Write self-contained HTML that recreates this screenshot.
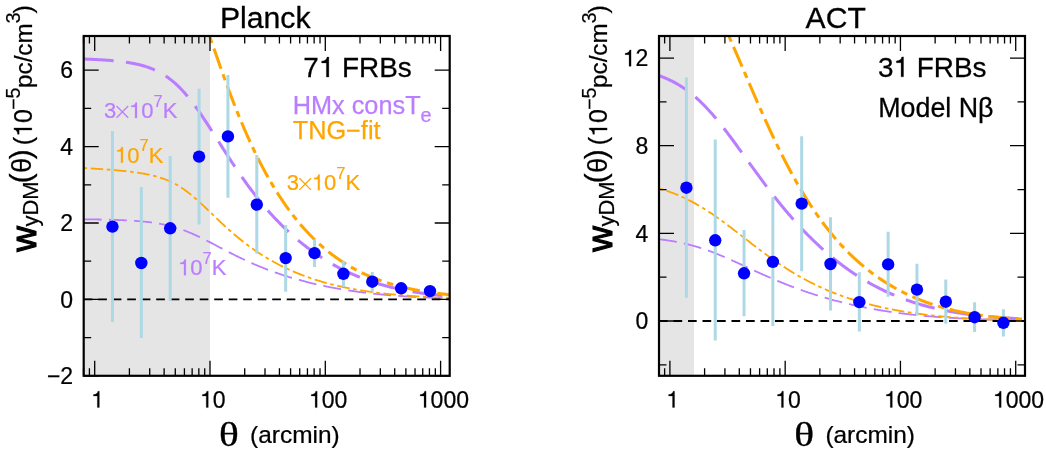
<!DOCTYPE html>
<html><head><meta charset="utf-8"><title>wyDM</title>
<style>html,body{margin:0;padding:0;background:#fff;}svg{display:block;will-change:transform;}</style></head>
<body>
<svg width="1046" height="453" viewBox="0 0 1046 453">
<rect width="1046" height="453" fill="#fff"/>
<clipPath id="clipL"><rect x="83.70" y="36.00" width="366.00" height="339.80"/></clipPath>
<rect x="83.70" y="36.00" width="126.30" height="339.80" fill="#e5e5e5"/>
<g clip-path="url(#clipL)">
<path d="M83.53,219.28 L84.44,219.29 L85.36,219.30 L86.28,219.31 L87.20,219.32 L88.12,219.33 L89.03,219.35 L89.95,219.36 L90.87,219.37 L91.79,219.38 L92.70,219.40 L93.62,219.41 L94.54,219.43 L95.46,219.44 L96.38,219.46 L97.29,219.47 L98.21,219.49 L99.13,219.51 L100.05,219.52 L100.96,219.54 L101.88,219.56 L102.80,219.58 L103.72,219.60 L104.64,219.62 L105.55,219.64 L106.47,219.66 L107.39,219.68 L108.31,219.71 L109.22,219.73 L110.14,219.75 L111.06,219.78 L111.98,219.81 L112.90,219.83 L113.81,219.86 L114.73,219.89 L115.65,219.92 L116.57,219.95 L117.48,219.98 L118.40,220.01 L119.32,220.05 L120.24,220.08 L121.16,220.12 L122.07,220.16 L122.99,220.20 L123.91,220.24 L124.83,220.28 L125.75,220.32 L126.66,220.37 L127.58,220.41 L128.50,220.46 L129.42,220.51 L130.33,220.57 L131.25,220.62 L132.17,220.67 L133.09,220.73 L134.01,220.79 L134.92,220.85 L135.84,220.92 L136.76,220.99 L137.68,221.05 L138.59,221.13 L139.51,221.20 L140.43,221.28 L141.35,221.36 L142.27,221.44 L143.18,221.53 L144.10,221.62 L145.02,221.71 L145.94,221.81 L146.85,221.90 L147.77,222.01 L148.69,222.11 L149.61,222.23 L150.53,222.34 L151.44,222.46 L152.36,222.58 L153.28,222.71 L154.20,222.84 L155.11,222.98 L156.03,223.12 L156.95,223.27 L157.87,223.42 L158.79,223.58 L159.70,223.74 L160.62,223.91 L161.54,224.08 L162.46,224.26 L163.38,224.44 L164.29,224.63 L165.21,224.83 L166.13,225.03 L167.05,225.24 L167.96,225.46 L168.88,225.68 L169.80,225.91 L170.72,226.15 L171.64,226.39 L172.55,226.64 L173.47,226.89 L174.39,227.16 L175.31,227.43 L176.22,227.71 L177.14,227.99 L178.06,228.28 L178.98,228.58 L179.90,228.89 L180.81,229.20 L181.73,229.52 L182.65,229.85 L183.57,230.19 L184.48,230.53 L185.40,230.88 L186.32,231.23 L187.24,231.59 L188.16,231.96 L189.07,232.34 L189.99,232.72 L190.91,233.11 L191.83,233.50 L192.74,233.91 L193.66,234.31 L194.58,234.72 L195.50,235.14 L196.42,235.56 L197.33,235.99 L198.25,236.42 L199.17,236.86 L200.09,237.30 L201.01,237.75 L201.92,238.20 L202.84,238.65 L203.76,239.11 L204.68,239.57 L205.59,240.03 L206.51,240.50 L207.43,240.97 L208.35,241.44 L209.27,241.91 L210.18,242.39 L211.10,242.86 L212.02,243.34 L212.94,243.82 L213.85,244.30 L214.77,244.78 L215.69,245.26 L216.61,245.75 L217.53,246.23 L218.44,246.71 L219.36,247.20 L220.28,247.68 L221.20,248.16 L222.11,248.64 L223.03,249.12 L223.95,249.60 L224.87,250.08 L225.79,250.56 L226.70,251.03 L227.62,251.50 L228.54,251.98 L229.46,252.45 L230.37,252.92 L231.29,253.38 L232.21,253.85 L233.13,254.31 L234.05,254.77 L234.96,255.23 L235.88,255.69 L236.80,256.14 L237.72,256.59 L238.63,257.04 L239.55,257.48 L240.47,257.93 L241.39,258.37 L242.31,258.80 L243.22,259.24 L244.14,259.67 L245.06,260.10 L245.98,260.52 L246.90,260.94 L247.81,261.36 L248.73,261.78 L249.65,262.19 L250.57,262.60 L251.48,263.01 L252.40,263.41 L253.32,263.81 L254.24,264.21 L255.16,264.61 L256.07,265.00 L256.99,265.39 L257.91,265.77 L258.83,266.15 L259.74,266.53 L260.66,266.91 L261.58,267.28 L262.50,267.65 L263.42,268.02 L264.33,268.38 L265.25,268.74 L266.17,269.09 L267.09,269.45 L268.00,269.80 L268.92,270.15 L269.84,270.49 L270.76,270.83 L271.68,271.17 L272.59,271.50 L273.51,271.84 L274.43,272.17 L275.35,272.49 L276.26,272.82 L277.18,273.14 L278.10,273.45 L279.02,273.77 L279.94,274.08 L280.85,274.39 L281.77,274.69 L282.69,275.00 L283.61,275.30 L284.53,275.59 L285.44,275.89 L286.36,276.18 L287.28,276.47 L288.20,276.75 L289.11,277.04 L290.03,277.32 L290.95,277.60 L291.87,277.87 L292.79,278.14 L293.70,278.41 L294.62,278.68 L295.54,278.95 L296.46,279.21 L297.37,279.47 L298.29,279.73 L299.21,279.98 L300.13,280.23 L301.05,280.48 L301.96,280.73 L302.88,280.97 L303.80,281.22 L304.72,281.46 L305.63,281.69 L306.55,281.93 L307.47,282.16 L308.39,282.39 L309.31,282.62 L310.22,282.85 L311.14,283.07 L312.06,283.29 L312.98,283.51 L313.89,283.73 L314.81,283.94 L315.73,284.15 L316.65,284.36 L317.57,284.57 L318.48,284.77 L319.40,284.98 L320.32,285.18 L321.24,285.38 L322.16,285.58 L323.07,285.77 L323.99,285.96 L324.91,286.15 L325.83,286.34 L326.74,286.53 L327.66,286.72 L328.58,286.90 L329.50,287.08 L330.42,287.26 L331.33,287.43 L332.25,287.61 L333.17,287.78 L334.09,287.95 L335.00,288.12 L335.92,288.29 L336.84,288.45 L337.76,288.62 L338.68,288.78 L339.59,288.94 L340.51,289.10 L341.43,289.25 L342.35,289.41 L343.26,289.56 L344.18,289.71 L345.10,289.86 L346.02,290.01 L346.94,290.15 L347.85,290.30 L348.77,290.44 L349.69,290.58 L350.61,290.72 L351.52,290.86 L352.44,290.99 L353.36,291.12 L354.28,291.26 L355.20,291.39 L356.11,291.52 L357.03,291.64 L357.95,291.77 L358.87,291.89 L359.78,292.02 L360.70,292.14 L361.62,292.26 L362.54,292.37 L363.46,292.49 L364.37,292.60 L365.29,292.72 L366.21,292.83 L367.13,292.94 L368.05,293.05 L368.96,293.16 L369.88,293.26 L370.80,293.37 L371.72,293.47 L372.63,293.57 L373.55,293.67 L374.47,293.77 L375.39,293.87 L376.31,293.97 L377.22,294.06 L378.14,294.15 L379.06,294.25 L379.98,294.34 L380.89,294.43 L381.81,294.52 L382.73,294.60 L383.65,294.69 L384.57,294.77 L385.48,294.86 L386.40,294.94 L387.32,295.02 L388.24,295.10 L389.15,295.18 L390.07,295.26 L390.99,295.33 L391.91,295.41 L392.83,295.48 L393.74,295.56 L394.66,295.63 L395.58,295.70 L396.50,295.77 L397.41,295.84 L398.33,295.90 L399.25,295.97 L400.17,296.03 L401.09,296.10 L402.00,296.16 L402.92,296.22 L403.84,296.29 L404.76,296.35 L405.68,296.41 L406.59,296.46 L407.51,296.52 L408.43,296.58 L409.35,296.63 L410.26,296.69 L411.18,296.74 L412.10,296.79 L413.02,296.84 L413.94,296.90 L414.85,296.95 L415.77,297.00 L416.69,297.04 L417.61,297.09 L418.52,297.14 L419.44,297.18 L420.36,297.23 L421.28,297.27 L422.20,297.32 L423.11,297.36 L424.03,297.40 L424.95,297.44 L425.87,297.48 L426.78,297.52 L427.70,297.56 L428.62,297.60 L429.54,297.64 L430.46,297.67 L431.37,297.71 L432.29,297.75 L433.21,297.78 L434.13,297.81 L435.04,297.85 L435.96,297.88 L436.88,297.91 L437.80,297.94 L438.72,297.98 L439.63,298.01 L440.55,298.04 L441.47,298.07 L442.39,298.09 L443.30,298.12 L444.22,298.15 L445.14,298.18 L446.06,298.20 L446.98,298.23 L447.89,298.26 L448.81,298.28 L449.73,298.31" fill="none" stroke="#bb7dff" stroke-width="1.80" stroke-dasharray="18.00 7.20" stroke-dashoffset="25.03"/>
<path d="M83.53,168.07 L84.44,168.12 L85.36,168.17 L86.28,168.21 L87.20,168.26 L88.12,168.32 L89.03,168.37 L89.95,168.42 L90.87,168.47 L91.79,168.52 L92.70,168.58 L93.62,168.63 L94.54,168.69 L95.46,168.74 L96.38,168.80 L97.29,168.86 L98.21,168.92 L99.13,168.98 L100.05,169.04 L100.96,169.10 L101.88,169.16 L102.80,169.23 L103.72,169.29 L104.64,169.35 L105.55,169.42 L106.47,169.49 L107.39,169.56 L108.31,169.62 L109.22,169.69 L110.14,169.77 L111.06,169.84 L111.98,169.91 L112.90,169.99 L113.81,170.06 L114.73,170.14 L115.65,170.22 L116.57,170.30 L117.48,170.38 L118.40,170.47 L119.32,170.55 L120.24,170.64 L121.16,170.73 L122.07,170.82 L122.99,170.91 L123.91,171.00 L124.83,171.10 L125.75,171.20 L126.66,171.30 L127.58,171.40 L128.50,171.51 L129.42,171.61 L130.33,171.72 L131.25,171.83 L132.17,171.95 L133.09,172.07 L134.01,172.19 L134.92,172.31 L135.84,172.44 L136.76,172.57 L137.68,172.70 L138.59,172.84 L139.51,172.98 L140.43,173.13 L141.35,173.28 L142.27,173.43 L143.18,173.59 L144.10,173.75 L145.02,173.92 L145.94,174.09 L146.85,174.27 L147.77,174.46 L148.69,174.65 L149.61,174.84 L150.53,175.04 L151.44,175.25 L152.36,175.47 L153.28,175.69 L154.20,175.92 L155.11,176.16 L156.03,176.41 L156.95,176.66 L157.87,176.93 L158.79,177.20 L159.70,177.48 L160.62,177.77 L161.54,178.07 L162.46,178.39 L163.38,178.71 L164.29,179.04 L165.21,179.39 L166.13,179.74 L167.05,180.11 L167.96,180.50 L168.88,180.89 L169.80,181.30 L170.72,181.72 L171.64,182.15 L172.55,182.60 L173.47,183.06 L174.39,183.54 L175.31,184.03 L176.22,184.54 L177.14,185.06 L178.06,185.59 L178.98,186.15 L179.90,186.71 L180.81,187.29 L181.73,187.89 L182.65,188.50 L183.57,189.13 L184.48,189.77 L185.40,190.42 L186.32,191.09 L187.24,191.78 L188.16,192.48 L189.07,193.19 L189.99,193.91 L190.91,194.65 L191.83,195.40 L192.74,196.16 L193.66,196.93 L194.58,197.72 L195.50,198.51 L196.42,199.32 L197.33,200.13 L198.25,200.95 L199.17,201.78 L200.09,202.62 L201.01,203.46 L201.92,204.32 L202.84,205.17 L203.76,206.04 L204.68,206.90 L205.59,207.77 L206.51,208.65 L207.43,209.52 L208.35,210.40 L209.27,211.28 L210.18,212.16 L211.10,213.05 L212.02,213.93 L212.94,214.81 L213.85,215.69 L214.77,216.58 L215.69,217.45 L216.61,218.33 L217.53,219.21 L218.44,220.08 L219.36,220.95 L220.28,221.81 L221.20,222.67 L222.11,223.53 L223.03,224.38 L223.95,225.23 L224.87,226.08 L225.79,226.92 L226.70,227.75 L227.62,228.58 L228.54,229.40 L229.46,230.22 L230.37,231.03 L231.29,231.84 L232.21,232.64 L233.13,233.43 L234.05,234.22 L234.96,235.00 L235.88,235.77 L236.80,236.54 L237.72,237.30 L238.63,238.06 L239.55,238.81 L240.47,239.55 L241.39,240.28 L242.31,241.01 L243.22,241.73 L244.14,242.44 L245.06,243.15 L245.98,243.85 L246.90,244.55 L247.81,245.23 L248.73,245.91 L249.65,246.59 L250.57,247.25 L251.48,247.91 L252.40,248.57 L253.32,249.21 L254.24,249.85 L255.16,250.49 L256.07,251.11 L256.99,251.73 L257.91,252.35 L258.83,252.95 L259.74,253.55 L260.66,254.15 L261.58,254.74 L262.50,255.32 L263.42,255.89 L264.33,256.46 L265.25,257.03 L266.17,257.58 L267.09,258.13 L268.00,258.68 L268.92,259.22 L269.84,259.75 L270.76,260.27 L271.68,260.80 L272.59,261.31 L273.51,261.82 L274.43,262.32 L275.35,262.82 L276.26,263.31 L277.18,263.80 L278.10,264.28 L279.02,264.76 L279.94,265.23 L280.85,265.69 L281.77,266.15 L282.69,266.60 L283.61,267.05 L284.53,267.50 L285.44,267.93 L286.36,268.37 L287.28,268.80 L288.20,269.22 L289.11,269.64 L290.03,270.05 L290.95,270.46 L291.87,270.86 L292.79,271.26 L293.70,271.66 L294.62,272.05 L295.54,272.43 L296.46,272.81 L297.37,273.19 L298.29,273.56 L299.21,273.93 L300.13,274.29 L301.05,274.65 L301.96,275.00 L302.88,275.35 L303.80,275.69 L304.72,276.04 L305.63,276.37 L306.55,276.70 L307.47,277.03 L308.39,277.36 L309.31,277.68 L310.22,277.99 L311.14,278.31 L312.06,278.62 L312.98,278.92 L313.89,279.22 L314.81,279.52 L315.73,279.81 L316.65,280.10 L317.57,280.39 L318.48,280.67 L319.40,280.95 L320.32,281.23 L321.24,281.50 L322.16,281.77 L323.07,282.03 L323.99,282.29 L324.91,282.55 L325.83,282.81 L326.74,283.06 L327.66,283.31 L328.58,283.55 L329.50,283.79 L330.42,284.03 L331.33,284.27 L332.25,284.50 L333.17,284.73 L334.09,284.95 L335.00,285.18 L335.92,285.40 L336.84,285.62 L337.76,285.83 L338.68,286.04 L339.59,286.25 L340.51,286.46 L341.43,286.66 L342.35,286.86 L343.26,287.06 L344.18,287.25 L345.10,287.45 L346.02,287.64 L346.94,287.82 L347.85,288.01 L348.77,288.19 L349.69,288.37 L350.61,288.55 L351.52,288.72 L352.44,288.89 L353.36,289.06 L354.28,289.23 L355.20,289.39 L356.11,289.56 L357.03,289.72 L357.95,289.87 L358.87,290.03 L359.78,290.18 L360.70,290.34 L361.62,290.48 L362.54,290.63 L363.46,290.78 L364.37,290.92 L365.29,291.06 L366.21,291.20 L367.13,291.33 L368.05,291.47 L368.96,291.60 L369.88,291.73 L370.80,291.86 L371.72,291.99 L372.63,292.11 L373.55,292.24 L374.47,292.36 L375.39,292.48 L376.31,292.59 L377.22,292.71 L378.14,292.82 L379.06,292.94 L379.98,293.05 L380.89,293.16 L381.81,293.26 L382.73,293.37 L383.65,293.47 L384.57,293.58 L385.48,293.68 L386.40,293.78 L387.32,293.87 L388.24,293.97 L389.15,294.07 L390.07,294.16 L390.99,294.25 L391.91,294.34 L392.83,294.43 L393.74,294.52 L394.66,294.60 L395.58,294.69 L396.50,294.77 L397.41,294.85 L398.33,294.94 L399.25,295.01 L400.17,295.09 L401.09,295.17 L402.00,295.25 L402.92,295.32 L403.84,295.39 L404.76,295.47 L405.68,295.54 L406.59,295.61 L407.51,295.68 L408.43,295.74 L409.35,295.81 L410.26,295.87 L411.18,295.94 L412.10,296.00 L413.02,296.06 L413.94,296.12 L414.85,296.19 L415.77,296.24 L416.69,296.30 L417.61,296.36 L418.52,296.42 L419.44,296.47 L420.36,296.52 L421.28,296.58 L422.20,296.63 L423.11,296.68 L424.03,296.73 L424.95,296.78 L425.87,296.83 L426.78,296.88 L427.70,296.93 L428.62,296.97 L429.54,297.02 L430.46,297.06 L431.37,297.11 L432.29,297.15 L433.21,297.19 L434.13,297.23 L435.04,297.28 L435.96,297.32 L436.88,297.36 L437.80,297.39 L438.72,297.43 L439.63,297.47 L440.55,297.51 L441.47,297.54 L442.39,297.58 L443.30,297.61 L444.22,297.65 L445.14,297.68 L446.06,297.72 L446.98,297.75 L447.89,297.78 L448.81,297.81 L449.73,297.84" fill="none" stroke="#ffa500" stroke-width="1.80" stroke-dasharray="12.60 3.60 3.60 3.60" stroke-dashoffset="16.32"/>
<path d="M83.53,59.03 L84.44,59.06 L85.36,59.09 L86.28,59.13 L87.20,59.16 L88.12,59.20 L89.03,59.24 L89.95,59.27 L90.87,59.31 L91.79,59.35 L92.70,59.39 L93.62,59.44 L94.54,59.48 L95.46,59.53 L96.38,59.57 L97.29,59.62 L98.21,59.67 L99.13,59.72 L100.05,59.77 L100.96,59.83 L101.88,59.88 L102.80,59.94 L103.72,60.00 L104.64,60.06 L105.55,60.12 L106.47,60.18 L107.39,60.25 L108.31,60.32 L109.22,60.39 L110.14,60.46 L111.06,60.54 L111.98,60.62 L112.90,60.70 L113.81,60.78 L114.73,60.87 L115.65,60.96 L116.57,61.05 L117.48,61.15 L118.40,61.24 L119.32,61.35 L120.24,61.45 L121.16,61.56 L122.07,61.67 L122.99,61.79 L123.91,61.91 L124.83,62.04 L125.75,62.17 L126.66,62.30 L127.58,62.44 L128.50,62.59 L129.42,62.74 L130.33,62.90 L131.25,63.06 L132.17,63.22 L133.09,63.40 L134.01,63.58 L134.92,63.76 L135.84,63.96 L136.76,64.16 L137.68,64.36 L138.59,64.58 L139.51,64.80 L140.43,65.04 L141.35,65.28 L142.27,65.52 L143.18,65.78 L144.10,66.05 L145.02,66.33 L145.94,66.62 L146.85,66.91 L147.77,67.22 L148.69,67.54 L149.61,67.88 L150.53,68.22 L151.44,68.58 L152.36,68.95 L153.28,69.33 L154.20,69.73 L155.11,70.14 L156.03,70.56 L156.95,71.00 L157.87,71.46 L158.79,71.93 L159.70,72.41 L160.62,72.92 L161.54,73.44 L162.46,73.97 L163.38,74.53 L164.29,75.10 L165.21,75.69 L166.13,76.30 L167.05,76.93 L167.96,77.57 L168.88,78.24 L169.80,78.93 L170.72,79.64 L171.64,80.36 L172.55,81.11 L173.47,81.88 L174.39,82.67 L175.31,83.48 L176.22,84.32 L177.14,85.17 L178.06,86.05 L178.98,86.95 L179.90,87.87 L180.81,88.81 L181.73,89.77 L182.65,90.75 L183.57,91.76 L184.48,92.78 L185.40,93.83 L186.32,94.90 L187.24,95.98 L188.16,97.09 L189.07,98.22 L189.99,99.37 L190.91,100.53 L191.83,101.71 L192.74,102.92 L193.66,104.14 L194.58,105.37 L195.50,106.62 L196.42,107.89 L197.33,109.17 L198.25,110.47 L199.17,111.78 L200.09,113.11 L201.01,114.44 L201.92,115.79 L202.84,117.15 L203.76,118.53 L204.68,119.91 L205.59,121.30 L206.51,122.69 L207.43,124.10 L208.35,125.51 L209.27,126.93 L210.18,128.36 L211.10,129.79 L212.02,131.22 L212.94,132.66 L213.85,134.10 L214.77,135.55 L215.69,136.99 L216.61,138.44 L217.53,139.89 L218.44,141.34 L219.36,142.79 L220.28,144.23 L221.20,145.68 L222.11,147.12 L223.03,148.56 L223.95,150.00 L224.87,151.43 L225.79,152.87 L226.70,154.29 L227.62,155.71 L228.54,157.13 L229.46,158.54 L230.37,159.95 L231.29,161.35 L232.21,162.75 L233.13,164.13 L234.05,165.51 L234.96,166.89 L235.88,168.26 L236.80,169.62 L237.72,170.97 L238.63,172.31 L239.55,173.65 L240.47,174.98 L241.39,176.30 L242.31,177.61 L243.22,178.91 L244.14,180.20 L245.06,181.49 L245.98,182.76 L246.90,184.03 L247.81,185.29 L248.73,186.54 L249.65,187.78 L250.57,189.01 L251.48,190.23 L252.40,191.44 L253.32,192.64 L254.24,193.84 L255.16,195.02 L256.07,196.19 L256.99,197.36 L257.91,198.51 L258.83,199.66 L259.74,200.80 L260.66,201.92 L261.58,203.04 L262.50,204.15 L263.42,205.25 L264.33,206.33 L265.25,207.41 L266.17,208.48 L267.09,209.54 L268.00,210.60 L268.92,211.64 L269.84,212.67 L270.76,213.69 L271.68,214.71 L272.59,215.71 L273.51,216.71 L274.43,217.70 L275.35,218.68 L276.26,219.65 L277.18,220.61 L278.10,221.56 L279.02,222.50 L279.94,223.44 L280.85,224.36 L281.77,225.28 L282.69,226.19 L283.61,227.09 L284.53,227.98 L285.44,228.86 L286.36,229.74 L287.28,230.60 L288.20,231.46 L289.11,232.31 L290.03,233.15 L290.95,233.99 L291.87,234.81 L292.79,235.63 L293.70,236.44 L294.62,237.24 L295.54,238.04 L296.46,238.83 L297.37,239.61 L298.29,240.38 L299.21,241.14 L300.13,241.90 L301.05,242.65 L301.96,243.39 L302.88,244.12 L303.80,244.85 L304.72,245.57 L305.63,246.28 L306.55,246.98 L307.47,247.68 L308.39,248.37 L309.31,249.06 L310.22,249.74 L311.14,250.41 L312.06,251.07 L312.98,251.73 L313.89,252.38 L314.81,253.02 L315.73,253.65 L316.65,254.28 L317.57,254.91 L318.48,255.52 L319.40,256.14 L320.32,256.74 L321.24,257.34 L322.16,257.93 L323.07,258.51 L323.99,259.09 L324.91,259.66 L325.83,260.23 L326.74,260.79 L327.66,261.35 L328.58,261.89 L329.50,262.44 L330.42,262.97 L331.33,263.50 L332.25,264.03 L333.17,264.55 L334.09,265.06 L335.00,265.57 L335.92,266.07 L336.84,266.56 L337.76,267.05 L338.68,267.54 L339.59,268.02 L340.51,268.49 L341.43,268.96 L342.35,269.42 L343.26,269.88 L344.18,270.33 L345.10,270.78 L346.02,271.22 L346.94,271.66 L347.85,272.09 L348.77,272.52 L349.69,272.94 L350.61,273.35 L351.52,273.77 L352.44,274.17 L353.36,274.57 L354.28,274.97 L355.20,275.36 L356.11,275.75 L357.03,276.13 L357.95,276.51 L358.87,276.88 L359.78,277.25 L360.70,277.61 L361.62,277.97 L362.54,278.32 L363.46,278.67 L364.37,279.01 L365.29,279.35 L366.21,279.69 L367.13,280.02 L368.05,280.35 L368.96,280.67 L369.88,280.99 L370.80,281.30 L371.72,281.61 L372.63,281.92 L373.55,282.22 L374.47,282.52 L375.39,282.81 L376.31,283.10 L377.22,283.38 L378.14,283.66 L379.06,283.94 L379.98,284.21 L380.89,284.48 L381.81,284.75 L382.73,285.01 L383.65,285.27 L384.57,285.52 L385.48,285.77 L386.40,286.02 L387.32,286.26 L388.24,286.50 L389.15,286.74 L390.07,286.97 L390.99,287.20 L391.91,287.43 L392.83,287.65 L393.74,287.87 L394.66,288.08 L395.58,288.29 L396.50,288.50 L397.41,288.71 L398.33,288.91 L399.25,289.11 L400.17,289.30 L401.09,289.50 L402.00,289.69 L402.92,289.87 L403.84,290.06 L404.76,290.24 L405.68,290.42 L406.59,290.59 L407.51,290.76 L408.43,290.93 L409.35,291.10 L410.26,291.26 L411.18,291.42 L412.10,291.58 L413.02,291.73 L413.94,291.89 L414.85,292.04 L415.77,292.19 L416.69,292.33 L417.61,292.47 L418.52,292.61 L419.44,292.75 L420.36,292.89 L421.28,293.02 L422.20,293.15 L423.11,293.28 L424.03,293.40 L424.95,293.53 L425.87,293.65 L426.78,293.77 L427.70,293.88 L428.62,294.00 L429.54,294.11 L430.46,294.22 L431.37,294.33 L432.29,294.44 L433.21,294.54 L434.13,294.64 L435.04,294.74 L435.96,294.84 L436.88,294.94 L437.80,295.03 L438.72,295.13 L439.63,295.22 L440.55,295.31 L441.47,295.40 L442.39,295.48 L443.30,295.57 L444.22,295.65 L445.14,295.73 L446.06,295.81 L446.98,295.89 L447.89,295.97 L448.81,296.04 L449.73,296.12" fill="none" stroke="#bb7dff" stroke-width="3.05" stroke-dasharray="30.00 12.40" stroke-dashoffset="42.23"/>
<path d="M83.53,-94.59 L84.44,-94.45 L85.36,-94.30 L86.28,-94.16 L87.20,-94.01 L88.12,-93.85 L89.03,-93.70 L89.95,-93.55 L90.87,-93.39 L91.79,-93.23 L92.70,-93.06 L93.62,-92.90 L94.54,-92.73 L95.46,-92.57 L96.38,-92.39 L97.29,-92.22 L98.21,-92.04 L99.13,-91.87 L100.05,-91.68 L100.96,-91.50 L101.88,-91.31 L102.80,-91.12 L103.72,-90.93 L104.64,-90.74 L105.55,-90.54 L106.47,-90.34 L107.39,-90.13 L108.31,-89.93 L109.22,-89.72 L110.14,-89.50 L111.06,-89.28 L111.98,-89.06 L112.90,-88.84 L113.81,-88.61 L114.73,-88.37 L115.65,-88.14 L116.57,-87.90 L117.48,-87.65 L118.40,-87.40 L119.32,-87.14 L120.24,-86.88 L121.16,-86.62 L122.07,-86.35 L122.99,-86.07 L123.91,-85.79 L124.83,-85.50 L125.75,-85.21 L126.66,-84.91 L127.58,-84.60 L128.50,-84.28 L129.42,-83.96 L130.33,-83.63 L131.25,-83.30 L132.17,-82.95 L133.09,-82.60 L134.01,-82.24 L134.92,-81.86 L135.84,-81.48 L136.76,-81.09 L137.68,-80.69 L138.59,-80.28 L139.51,-79.85 L140.43,-79.42 L141.35,-78.97 L142.27,-78.51 L143.18,-78.03 L144.10,-77.54 L145.02,-77.04 L145.94,-76.52 L146.85,-75.99 L147.77,-75.43 L148.69,-74.86 L149.61,-74.28 L150.53,-73.67 L151.44,-73.04 L152.36,-72.39 L153.28,-71.72 L154.20,-71.03 L155.11,-70.32 L156.03,-69.58 L156.95,-68.81 L157.87,-68.02 L158.79,-67.21 L159.70,-66.36 L160.62,-65.49 L161.54,-64.58 L162.46,-63.64 L163.38,-62.68 L164.29,-61.67 L165.21,-60.64 L166.13,-59.57 L167.05,-58.46 L167.96,-57.31 L168.88,-56.13 L169.80,-54.91 L170.72,-53.64 L171.64,-52.34 L172.55,-51.00 L173.47,-49.61 L174.39,-48.18 L175.31,-46.70 L176.22,-45.19 L177.14,-43.62 L178.06,-42.02 L178.98,-40.36 L179.90,-38.66 L180.81,-36.92 L181.73,-35.13 L182.65,-33.30 L183.57,-31.42 L184.48,-29.50 L185.40,-27.53 L186.32,-25.52 L187.24,-23.47 L188.16,-21.37 L189.07,-19.24 L189.99,-17.07 L190.91,-14.85 L191.83,-12.60 L192.74,-10.32 L193.66,-8.00 L194.58,-5.65 L195.50,-3.27 L196.42,-0.85 L197.33,1.59 L198.25,4.06 L199.17,6.55 L200.09,9.06 L201.01,11.59 L201.92,14.15 L202.84,16.72 L203.76,19.31 L204.68,21.91 L205.59,24.52 L206.51,27.14 L207.43,29.77 L208.35,32.41 L209.27,35.05 L210.18,37.69 L211.10,40.34 L212.02,42.99 L212.94,45.64 L213.85,48.28 L214.77,50.93 L215.69,53.56 L216.61,56.19 L217.53,58.82 L218.44,61.43 L219.36,64.04 L220.28,66.64 L221.20,69.22 L222.11,71.79 L223.03,74.35 L223.95,76.90 L224.87,79.43 L225.79,81.95 L226.70,84.45 L227.62,86.94 L228.54,89.41 L229.46,91.86 L230.37,94.30 L231.29,96.71 L232.21,99.11 L233.13,101.49 L234.05,103.86 L234.96,106.20 L235.88,108.52 L236.80,110.82 L237.72,113.11 L238.63,115.37 L239.55,117.62 L240.47,119.84 L241.39,122.04 L242.31,124.23 L243.22,126.39 L244.14,128.53 L245.06,130.66 L245.98,132.76 L246.90,134.84 L247.81,136.90 L248.73,138.94 L249.65,140.96 L250.57,142.96 L251.48,144.94 L252.40,146.90 L253.32,148.84 L254.24,150.76 L255.16,152.66 L256.07,154.54 L256.99,156.40 L257.91,158.24 L258.83,160.06 L259.74,161.86 L260.66,163.65 L261.58,165.41 L262.50,167.15 L263.42,168.88 L264.33,170.59 L265.25,172.28 L266.17,173.95 L267.09,175.60 L268.00,177.23 L268.92,178.85 L269.84,180.44 L270.76,182.02 L271.68,183.59 L272.59,185.13 L273.51,186.66 L274.43,188.17 L275.35,189.66 L276.26,191.14 L277.18,192.60 L278.10,194.04 L279.02,195.47 L279.94,196.88 L280.85,198.27 L281.77,199.65 L282.69,201.01 L283.61,202.36 L284.53,203.69 L285.44,205.00 L286.36,206.30 L287.28,207.59 L288.20,208.86 L289.11,210.11 L290.03,211.35 L290.95,212.58 L291.87,213.79 L292.79,214.99 L293.70,216.17 L294.62,217.34 L295.54,218.49 L296.46,219.64 L297.37,220.76 L298.29,221.88 L299.21,222.98 L300.13,224.06 L301.05,225.14 L301.96,226.20 L302.88,227.25 L303.80,228.28 L304.72,229.31 L305.63,230.32 L306.55,231.31 L307.47,232.30 L308.39,233.27 L309.31,234.23 L310.22,235.18 L311.14,236.12 L312.06,237.05 L312.98,237.96 L313.89,238.87 L314.81,239.76 L315.73,240.64 L316.65,241.51 L317.57,242.37 L318.48,243.21 L319.40,244.05 L320.32,244.88 L321.24,245.69 L322.16,246.50 L323.07,247.29 L323.99,248.08 L324.91,248.85 L325.83,249.62 L326.74,250.37 L327.66,251.12 L328.58,251.85 L329.50,252.58 L330.42,253.29 L331.33,254.00 L332.25,254.70 L333.17,255.38 L334.09,256.06 L335.00,256.73 L335.92,257.39 L336.84,258.05 L337.76,258.69 L338.68,259.33 L339.59,259.95 L340.51,260.57 L341.43,261.18 L342.35,261.78 L343.26,262.37 L344.18,262.96 L345.10,263.54 L346.02,264.11 L346.94,264.67 L347.85,265.22 L348.77,265.77 L349.69,266.30 L350.61,266.84 L351.52,267.36 L352.44,267.88 L353.36,268.38 L354.28,268.89 L355.20,269.38 L356.11,269.87 L357.03,270.35 L357.95,270.82 L358.87,271.29 L359.78,271.75 L360.70,272.21 L361.62,272.65 L362.54,273.09 L363.46,273.53 L364.37,273.96 L365.29,274.38 L366.21,274.79 L367.13,275.20 L368.05,275.61 L368.96,276.01 L369.88,276.40 L370.80,276.78 L371.72,277.17 L372.63,277.54 L373.55,277.91 L374.47,278.27 L375.39,278.63 L376.31,278.98 L377.22,279.33 L378.14,279.67 L379.06,280.01 L379.98,280.34 L380.89,280.67 L381.81,280.99 L382.73,281.31 L383.65,281.62 L384.57,281.93 L385.48,282.23 L386.40,282.53 L387.32,282.82 L388.24,283.11 L389.15,283.40 L390.07,283.68 L390.99,283.95 L391.91,284.22 L392.83,284.49 L393.74,284.75 L394.66,285.01 L395.58,285.27 L396.50,285.52 L397.41,285.76 L398.33,286.01 L399.25,286.24 L400.17,286.48 L401.09,286.71 L402.00,286.94 L402.92,287.16 L403.84,287.38 L404.76,287.60 L405.68,287.81 L406.59,288.02 L407.51,288.23 L408.43,288.43 L409.35,288.63 L410.26,288.82 L411.18,289.02 L412.10,289.21 L413.02,289.39 L413.94,289.57 L414.85,289.76 L415.77,289.93 L416.69,290.11 L417.61,290.28 L418.52,290.45 L419.44,290.61 L420.36,290.77 L421.28,290.93 L422.20,291.09 L423.11,291.25 L424.03,291.40 L424.95,291.55 L425.87,291.69 L426.78,291.84 L427.70,291.98 L428.62,292.12 L429.54,292.26 L430.46,292.39 L431.37,292.52 L432.29,292.65 L433.21,292.78 L434.13,292.90 L435.04,293.03 L435.96,293.15 L436.88,293.27 L437.80,293.38 L438.72,293.50 L439.63,293.61 L440.55,293.72 L441.47,293.83 L442.39,293.94 L443.30,294.04 L444.22,294.14 L445.14,294.25 L446.06,294.35 L446.98,294.44 L447.89,294.54 L448.81,294.63 L449.73,294.72" fill="none" stroke="#ffa500" stroke-width="3.05" stroke-dasharray="21.60 5.70 6.40 5.70" stroke-dashoffset="25.94"/>
<line x1="83.70" y1="299.40" x2="449.70" y2="299.40" stroke="#000" stroke-width="1.9" stroke-dasharray="8.7 5.8"/>
<line x1="112.45" y1="131.10" x2="112.45" y2="322.00" stroke="#add8e6" stroke-width="3"/>
<line x1="141.32" y1="187.00" x2="141.32" y2="337.90" stroke="#add8e6" stroke-width="3"/>
<line x1="170.19" y1="155.90" x2="170.19" y2="300.70" stroke="#add8e6" stroke-width="3"/>
<line x1="199.06" y1="88.70" x2="199.06" y2="224.50" stroke="#add8e6" stroke-width="3"/>
<line x1="227.93" y1="75.00" x2="227.93" y2="197.80" stroke="#add8e6" stroke-width="3"/>
<line x1="256.80" y1="155.00" x2="256.80" y2="253.80" stroke="#add8e6" stroke-width="3"/>
<line x1="285.67" y1="225.00" x2="285.67" y2="291.70" stroke="#add8e6" stroke-width="3"/>
<line x1="314.54" y1="239.40" x2="314.54" y2="267.00" stroke="#add8e6" stroke-width="3"/>
<line x1="343.41" y1="260.80" x2="343.41" y2="286.80" stroke="#add8e6" stroke-width="3"/>
<line x1="372.28" y1="272.00" x2="372.28" y2="291.70" stroke="#add8e6" stroke-width="3"/>
<line x1="401.15" y1="285.00" x2="401.15" y2="291.60" stroke="#add8e6" stroke-width="3"/>
<line x1="430.02" y1="288.50" x2="430.02" y2="293.70" stroke="#add8e6" stroke-width="3"/>
<circle cx="112.45" cy="226.60" r="6.2" fill="#0000ff"/>
<circle cx="141.32" cy="263.00" r="6.2" fill="#0000ff"/>
<circle cx="170.19" cy="228.30" r="6.2" fill="#0000ff"/>
<circle cx="199.06" cy="156.60" r="6.2" fill="#0000ff"/>
<circle cx="227.93" cy="136.40" r="6.2" fill="#0000ff"/>
<circle cx="256.80" cy="204.60" r="6.2" fill="#0000ff"/>
<circle cx="285.67" cy="258.10" r="6.2" fill="#0000ff"/>
<circle cx="314.54" cy="253.10" r="6.2" fill="#0000ff"/>
<circle cx="343.41" cy="273.80" r="6.2" fill="#0000ff"/>
<circle cx="372.28" cy="281.70" r="6.2" fill="#0000ff"/>
<circle cx="401.15" cy="288.30" r="6.2" fill="#0000ff"/>
<circle cx="430.02" cy="291.10" r="6.2" fill="#0000ff"/>
</g>
<path d="M83.53,36.00 v7.50 M83.53,375.80 v-7.50 M89.42,36.00 v7.50 M89.42,375.80 v-7.50 M94.70,36.00 v15.00 M94.70,375.80 v-15.00 M129.41,36.00 v7.50 M129.41,375.80 v-7.50 M149.71,36.00 v7.50 M149.71,375.80 v-7.50 M164.12,36.00 v7.50 M164.12,375.80 v-7.50 M175.29,36.00 v7.50 M175.29,375.80 v-7.50 M184.42,36.00 v7.50 M184.42,375.80 v-7.50 M192.14,36.00 v7.50 M192.14,375.80 v-7.50 M198.83,36.00 v7.50 M198.83,375.80 v-7.50 M204.72,36.00 v7.50 M204.72,375.80 v-7.50 M210.00,36.00 v15.00 M210.00,375.80 v-15.00 M244.71,36.00 v7.50 M244.71,375.80 v-7.50 M265.01,36.00 v7.50 M265.01,375.80 v-7.50 M279.42,36.00 v7.50 M279.42,375.80 v-7.50 M290.59,36.00 v7.50 M290.59,375.80 v-7.50 M299.72,36.00 v7.50 M299.72,375.80 v-7.50 M307.44,36.00 v7.50 M307.44,375.80 v-7.50 M314.13,36.00 v7.50 M314.13,375.80 v-7.50 M320.02,36.00 v7.50 M320.02,375.80 v-7.50 M325.30,36.00 v15.00 M325.30,375.80 v-15.00 M360.01,36.00 v7.50 M360.01,375.80 v-7.50 M380.31,36.00 v7.50 M380.31,375.80 v-7.50 M394.72,36.00 v7.50 M394.72,375.80 v-7.50 M405.89,36.00 v7.50 M405.89,375.80 v-7.50 M415.02,36.00 v7.50 M415.02,375.80 v-7.50 M422.74,36.00 v7.50 M422.74,375.80 v-7.50 M429.43,36.00 v7.50 M429.43,375.80 v-7.50 M435.32,36.00 v7.50 M435.32,375.80 v-7.50 M440.60,36.00 v15.00 M440.60,375.80 v-15.00 M83.70,375.80 h15.00 M449.70,375.80 h-15.00 M83.70,337.60 h7.50 M449.70,337.60 h-7.50 M83.70,299.40 h15.00 M449.70,299.40 h-15.00 M83.70,261.20 h7.50 M449.70,261.20 h-7.50 M83.70,223.00 h15.00 M449.70,223.00 h-15.00 M83.70,184.80 h7.50 M449.70,184.80 h-7.50 M83.70,146.60 h15.00 M449.70,146.60 h-15.00 M83.70,108.40 h7.50 M449.70,108.40 h-7.50 M83.70,70.20 h15.00 M449.70,70.20 h-15.00" stroke="#000" stroke-width="1.30" fill="none"/>
<rect x="83.70" y="36.00" width="366.00" height="339.80" fill="none" stroke="#000" stroke-width="2.2"/>
<text x="46.88" y="384.05" font-family="Liberation Sans, sans-serif" font-size="23.00" stroke="#000" stroke-width="0.23">−2</text>
<text x="60.31" y="307.65" font-family="Liberation Sans, sans-serif" font-size="23.00" stroke="#000" stroke-width="0.23">0</text>
<text x="60.31" y="231.25" font-family="Liberation Sans, sans-serif" font-size="23.00" stroke="#000" stroke-width="0.23">2</text>
<text x="60.31" y="154.85" font-family="Liberation Sans, sans-serif" font-size="23.00" stroke="#000" stroke-width="0.23">4</text>
<text x="60.31" y="78.45" font-family="Liberation Sans, sans-serif" font-size="23.00" stroke="#000" stroke-width="0.23">6</text>
<path transform="translate(91.10,407.60) scale(0.02300,-0.02300)" d="M359 0L271 0L271 505L101 505L101 568Q190 571 237 608Q281 645 296 714L359 714Z" fill="#000" stroke="#000" stroke-width="10"/>
<path transform="translate(200.01,407.60) scale(0.02300,-0.02300)" d="M359 0L271 0L271 505L101 505L101 568Q190 571 237 608Q281 645 296 714L359 714Z" fill="#000" stroke="#000" stroke-width="10"/>
<text x="212.80" y="407.60" font-family="Liberation Sans, sans-serif" font-size="23.00" stroke="#000" stroke-width="0.23">0</text>
<path transform="translate(308.91,407.60) scale(0.02300,-0.02300)" d="M359 0L271 0L271 505L101 505L101 568Q190 571 237 608Q281 645 296 714L359 714Z" fill="#000" stroke="#000" stroke-width="10"/>
<text x="321.70" y="407.60" font-family="Liberation Sans, sans-serif" font-size="23.00" stroke="#000" stroke-width="0.23">00</text>
<path transform="translate(417.82,407.60) scale(0.02300,-0.02300)" d="M359 0L271 0L271 505L101 505L101 568Q190 571 237 608Q281 645 296 714L359 714Z" fill="#000" stroke="#000" stroke-width="10"/>
<text x="430.61" y="407.60" font-family="Liberation Sans, sans-serif" font-size="23.00" stroke="#000" stroke-width="0.23">000</text>
<text x="265.20" y="28.2" font-family="Liberation Sans, sans-serif" font-size="30.2" text-anchor="middle" stroke="#000" stroke-width="0.30">Planck</text>
<text transform="translate(219.00,446.3) scale(1.18,0.96)" font-family="Liberation Serif, serif" font-size="35" stroke="#000" stroke-width="0.35">θ</text>
<text x="250.10" y="442.9" font-family="Liberation Sans, sans-serif" font-size="24.45" stroke="#000" stroke-width="0.24">(arcmin)</text>
<g transform="translate(0.00,0)">
<text transform="translate(36.2,251.8) rotate(-90)" font-family="Liberation Sans, sans-serif" font-size="35.6" stroke="#000" stroke-width="1.1">w</text>
<text transform="translate(38.3,226.6) rotate(-90)" font-family="Liberation Sans, sans-serif" font-size="22" stroke="#000" stroke-width="0.22">yDM</text>
<text transform="translate(30.8,183.2) rotate(-90)" font-family="Liberation Sans, sans-serif" font-size="29.5" stroke="#000" stroke-width="0.29">(</text>
<text transform="translate(31.4,172.9) rotate(-90)" font-family="Liberation Sans, sans-serif" font-size="27.5" stroke="#000" stroke-width="0.28">θ</text>
<text transform="translate(30.8,159.2) rotate(-90)" font-family="Liberation Sans, sans-serif" font-size="29.5" stroke="#000" stroke-width="0.29">)</text>
<g transform="translate(31.8,145.2) rotate(-90)">
<text x="0.00" y="0.00" font-family="Liberation Sans, sans-serif" font-size="25.00" stroke="#000" stroke-width="0.25">(</text>
<path transform="translate(8.33,0.00) scale(0.02500,-0.02500)" d="M359 0L271 0L271 505L101 505L101 568Q190 571 237 608Q281 645 296 714L359 714Z" fill="#000" stroke="#000" stroke-width="10"/>
<text x="22.23" y="0.00" font-family="Liberation Sans, sans-serif" font-size="25.00" stroke="#000" stroke-width="0.25">0</text>
</g>
<text transform="translate(20.3,109.8) rotate(-90)" font-family="Liberation Sans, sans-serif" font-size="19.5" stroke="#000" stroke-width="0.20">−5</text>
<text transform="translate(31.8,87.9) rotate(-90)" font-family="Liberation Sans, sans-serif" font-size="24.2" stroke="#000" stroke-width="0.24">pc/cm</text>
<text transform="translate(20.4,23.4) rotate(-90)" font-family="Liberation Sans, sans-serif" font-size="20" stroke="#000" stroke-width="0.20">3</text>
<text transform="translate(31.8,13.6) rotate(-90)" font-family="Liberation Sans, sans-serif" font-size="25" stroke="#000" stroke-width="0.25">)</text>
</g>
<text x="303.30" y="77.00" font-family="Liberation Sans, sans-serif" font-size="27.90" stroke="#000" stroke-width="0.28">7</text>
<path transform="translate(318.82,77.00) scale(0.02790,-0.02790)" d="M359 0L271 0L271 505L101 505L101 568Q190 571 237 608Q281 645 296 714L359 714Z" fill="#000" stroke="#000" stroke-width="10"/>
<text x="342.08" y="77.00" font-family="Liberation Sans, sans-serif" font-size="27.90" stroke="#000" stroke-width="0.28">FRBs</text>
<text x="292.7" y="113.9" font-family="Liberation Sans, sans-serif" font-size="25.3" fill="#bb7dff" stroke="#bb7dff" stroke-width="0.25">HMx consT<tspan font-size="19.8" dy="7.9">e</tspan></text>
<text x="292.7" y="139.1" font-family="Liberation Sans, sans-serif" font-size="25.3" fill="#ffa500" stroke="#ffa500" stroke-width="0.25">TNG−fit</text>
<text x="104.00" y="118.10" font-family="Liberation Sans, sans-serif" font-size="22.00" fill="#bb7dff" stroke="#bb7dff" stroke-width="0.22">3</text>
<path d="M116.53,106.00 L128.19,117.66 M116.53,117.66 L128.19,106.00" stroke="#bb7dff" stroke-width="1.32" fill="none"/>
<path transform="translate(129.08,118.10) scale(0.02200,-0.02200)" d="M359 0L271 0L271 505L101 505L101 568Q190 571 237 608Q281 645 296 714L359 714Z" fill="#bb7dff" stroke="#bb7dff" stroke-width="10"/>
<text x="141.32" y="118.10" font-family="Liberation Sans, sans-serif" font-size="22.00" fill="#bb7dff" stroke="#bb7dff" stroke-width="0.22">0</text>
<text x="153.55" y="106.60" font-family="Liberation Sans, sans-serif" font-size="16.50" fill="#bb7dff" stroke="#bb7dff" stroke-width="0.17">7</text>
<text x="162.73" y="118.10" font-family="Liberation Sans, sans-serif" font-size="22.00" fill="#bb7dff" stroke="#bb7dff" stroke-width="0.22">K</text>
<path transform="translate(115.00,162.70) scale(0.02200,-0.02200)" d="M359 0L271 0L271 505L101 505L101 568Q190 571 237 608Q281 645 296 714L359 714Z" fill="#ffa500" stroke="#ffa500" stroke-width="10"/>
<text x="127.24" y="162.70" font-family="Liberation Sans, sans-serif" font-size="22.00" fill="#ffa500" stroke="#ffa500" stroke-width="0.22">0</text>
<text x="139.47" y="151.20" font-family="Liberation Sans, sans-serif" font-size="16.50" fill="#ffa500" stroke="#ffa500" stroke-width="0.17">7</text>
<text x="148.65" y="162.70" font-family="Liberation Sans, sans-serif" font-size="22.00" fill="#ffa500" stroke="#ffa500" stroke-width="0.22">K</text>
<path transform="translate(178.00,275.20) scale(0.02200,-0.02200)" d="M359 0L271 0L271 505L101 505L101 568Q190 571 237 608Q281 645 296 714L359 714Z" fill="#bb7dff" stroke="#bb7dff" stroke-width="10"/>
<text x="190.24" y="275.20" font-family="Liberation Sans, sans-serif" font-size="22.00" fill="#bb7dff" stroke="#bb7dff" stroke-width="0.22">0</text>
<text x="202.47" y="263.70" font-family="Liberation Sans, sans-serif" font-size="16.50" fill="#bb7dff" stroke="#bb7dff" stroke-width="0.17">7</text>
<text x="211.65" y="275.20" font-family="Liberation Sans, sans-serif" font-size="22.00" fill="#bb7dff" stroke="#bb7dff" stroke-width="0.22">K</text>
<text x="286.80" y="190.30" font-family="Liberation Sans, sans-serif" font-size="22.00" fill="#ffa500" stroke="#ffa500" stroke-width="0.22">3</text>
<path d="M299.33,178.20 L310.99,189.86 M299.33,189.86 L310.99,178.20" stroke="#ffa500" stroke-width="1.32" fill="none"/>
<path transform="translate(311.88,190.30) scale(0.02200,-0.02200)" d="M359 0L271 0L271 505L101 505L101 568Q190 571 237 608Q281 645 296 714L359 714Z" fill="#ffa500" stroke="#ffa500" stroke-width="10"/>
<text x="324.12" y="190.30" font-family="Liberation Sans, sans-serif" font-size="22.00" fill="#ffa500" stroke="#ffa500" stroke-width="0.22">0</text>
<text x="336.35" y="178.80" font-family="Liberation Sans, sans-serif" font-size="16.50" fill="#ffa500" stroke="#ffa500" stroke-width="0.17">7</text>
<text x="345.53" y="190.30" font-family="Liberation Sans, sans-serif" font-size="22.00" fill="#ffa500" stroke="#ffa500" stroke-width="0.22">K</text>
<clipPath id="clipR"><rect x="659.00" y="36.00" width="366.00" height="339.80"/></clipPath>
<rect x="659.00" y="36.00" width="35.05" height="339.80" fill="#e5e5e5"/>
<g clip-path="url(#clipR)">
<path d="M658.73,239.18 L659.65,239.29 L660.56,239.40 L661.48,239.52 L662.40,239.63 L663.32,239.76 L664.23,239.88 L665.15,240.01 L666.07,240.14 L666.99,240.27 L667.90,240.41 L668.82,240.55 L669.74,240.69 L670.66,240.84 L671.58,240.99 L672.49,241.14 L673.41,241.30 L674.33,241.46 L675.25,241.63 L676.16,241.80 L677.08,241.97 L678.00,242.15 L678.92,242.33 L679.83,242.52 L680.75,242.71 L681.67,242.90 L682.59,243.10 L683.50,243.31 L684.42,243.52 L685.34,243.73 L686.26,243.95 L687.17,244.17 L688.09,244.39 L689.01,244.62 L689.93,244.86 L690.84,245.10 L691.76,245.35 L692.68,245.60 L693.60,245.85 L694.51,246.11 L695.43,246.37 L696.35,246.64 L697.27,246.92 L698.18,247.20 L699.10,247.48 L700.02,247.77 L700.94,248.06 L701.85,248.36 L702.77,248.66 L703.69,248.97 L704.61,249.28 L705.52,249.60 L706.44,249.92 L707.36,250.24 L708.28,250.57 L709.20,250.91 L710.11,251.24 L711.03,251.59 L711.95,251.93 L712.87,252.28 L713.78,252.64 L714.70,253.00 L715.62,253.36 L716.54,253.73 L717.45,254.10 L718.37,254.47 L719.29,254.85 L720.21,255.23 L721.12,255.61 L722.04,256.00 L722.96,256.39 L723.88,256.78 L724.79,257.17 L725.71,257.57 L726.63,257.97 L727.55,258.37 L728.46,258.78 L729.38,259.18 L730.30,259.59 L731.22,260.00 L732.13,260.42 L733.05,260.83 L733.97,261.25 L734.89,261.66 L735.80,262.08 L736.72,262.50 L737.64,262.92 L738.56,263.34 L739.47,263.77 L740.39,264.19 L741.31,264.61 L742.23,265.04 L743.15,265.46 L744.06,265.89 L744.98,266.31 L745.90,266.74 L746.82,267.16 L747.73,267.59 L748.65,268.01 L749.57,268.44 L750.49,268.86 L751.40,269.29 L752.32,269.71 L753.24,270.13 L754.16,270.55 L755.07,270.98 L755.99,271.40 L756.91,271.81 L757.83,272.23 L758.74,272.65 L759.66,273.07 L760.58,273.48 L761.50,273.89 L762.41,274.31 L763.33,274.72 L764.25,275.13 L765.17,275.54 L766.08,275.94 L767.00,276.35 L767.92,276.75 L768.84,277.15 L769.75,277.55 L770.67,277.95 L771.59,278.35 L772.51,278.74 L773.42,279.13 L774.34,279.52 L775.26,279.91 L776.18,280.30 L777.09,280.68 L778.01,281.07 L778.93,281.45 L779.85,281.83 L780.77,282.20 L781.68,282.58 L782.60,282.95 L783.52,283.32 L784.44,283.69 L785.35,284.06 L786.27,284.42 L787.19,284.78 L788.11,285.14 L789.02,285.50 L789.94,285.85 L790.86,286.21 L791.78,286.56 L792.69,286.91 L793.61,287.25 L794.53,287.60 L795.45,287.94 L796.36,288.28 L797.28,288.61 L798.20,288.95 L799.12,289.28 L800.03,289.61 L800.95,289.94 L801.87,290.27 L802.79,290.59 L803.70,290.91 L804.62,291.23 L805.54,291.55 L806.46,291.86 L807.37,292.17 L808.29,292.48 L809.21,292.79 L810.13,293.10 L811.04,293.40 L811.96,293.70 L812.88,294.00 L813.80,294.30 L814.72,294.59 L815.63,294.88 L816.55,295.17 L817.47,295.46 L818.39,295.74 L819.30,296.03 L820.22,296.31 L821.14,296.59 L822.06,296.86 L822.97,297.14 L823.89,297.41 L824.81,297.68 L825.73,297.95 L826.64,298.21 L827.56,298.48 L828.48,298.74 L829.40,299.00 L830.31,299.25 L831.23,299.51 L832.15,299.76 L833.07,300.01 L833.98,300.26 L834.90,300.51 L835.82,300.75 L836.74,300.99 L837.65,301.24 L838.57,301.47 L839.49,301.71 L840.41,301.94 L841.32,302.18 L842.24,302.41 L843.16,302.63 L844.08,302.86 L844.99,303.08 L845.91,303.31 L846.83,303.53 L847.75,303.74 L848.66,303.96 L849.58,304.17 L850.50,304.39 L851.42,304.60 L852.34,304.80 L853.25,305.01 L854.17,305.22 L855.09,305.42 L856.01,305.62 L856.92,305.82 L857.84,306.01 L858.76,306.21 L859.68,306.40 L860.59,306.59 L861.51,306.78 L862.43,306.97 L863.35,307.16 L864.26,307.34 L865.18,307.52 L866.10,307.70 L867.02,307.88 L867.93,308.06 L868.85,308.23 L869.77,308.40 L870.69,308.58 L871.60,308.74 L872.52,308.91 L873.44,309.08 L874.36,309.24 L875.27,309.41 L876.19,309.57 L877.11,309.73 L878.03,309.88 L878.94,310.04 L879.86,310.19 L880.78,310.35 L881.70,310.50 L882.61,310.65 L883.53,310.79 L884.45,310.94 L885.37,311.08 L886.29,311.23 L887.20,311.37 L888.12,311.51 L889.04,311.64 L889.96,311.78 L890.87,311.92 L891.79,312.05 L892.71,312.18 L893.63,312.31 L894.54,312.44 L895.46,312.57 L896.38,312.69 L897.30,312.82 L898.21,312.94 L899.13,313.06 L900.05,313.18 L900.97,313.30 L901.88,313.42 L902.80,313.53 L903.72,313.65 L904.64,313.76 L905.55,313.87 L906.47,313.98 L907.39,314.09 L908.31,314.19 L909.22,314.30 L910.14,314.41 L911.06,314.51 L911.98,314.61 L912.89,314.71 L913.81,314.81 L914.73,314.91 L915.65,315.00 L916.56,315.10 L917.48,315.19 L918.40,315.29 L919.32,315.38 L920.23,315.47 L921.15,315.56 L922.07,315.65 L922.99,315.73 L923.91,315.82 L924.82,315.90 L925.74,315.99 L926.66,316.07 L927.58,316.15 L928.49,316.23 L929.41,316.31 L930.33,316.39 L931.25,316.46 L932.16,316.54 L933.08,316.61 L934.00,316.69 L934.92,316.76 L935.83,316.83 L936.75,316.90 L937.67,316.97 L938.59,317.04 L939.50,317.11 L940.42,317.17 L941.34,317.24 L942.26,317.30 L943.17,317.37 L944.09,317.43 L945.01,317.49 L945.93,317.55 L946.84,317.61 L947.76,317.67 L948.68,317.73 L949.60,317.78 L950.51,317.84 L951.43,317.90 L952.35,317.95 L953.27,318.00 L954.18,318.06 L955.10,318.11 L956.02,318.16 L956.94,318.21 L957.86,318.26 L958.77,318.31 L959.69,318.36 L960.61,318.40 L961.53,318.45 L962.44,318.50 L963.36,318.54 L964.28,318.59 L965.20,318.63 L966.11,318.67 L967.03,318.71 L967.95,318.76 L968.87,318.80 L969.78,318.84 L970.70,318.88 L971.62,318.92 L972.54,318.95 L973.45,318.99 L974.37,319.03 L975.29,319.06 L976.21,319.10 L977.12,319.14 L978.04,319.17 L978.96,319.20 L979.88,319.24 L980.79,319.27 L981.71,319.30 L982.63,319.33 L983.55,319.37 L984.46,319.40 L985.38,319.43 L986.30,319.46 L987.22,319.48 L988.13,319.51 L989.05,319.54 L989.97,319.57 L990.89,319.60 L991.80,319.62 L992.72,319.65 L993.64,319.67 L994.56,319.70 L995.48,319.72 L996.39,319.75 L997.31,319.77 L998.23,319.80 L999.15,319.82 L1000.06,319.84 L1000.98,319.86 L1001.90,319.89 L1002.82,319.91 L1003.73,319.93 L1004.65,319.95 L1005.57,319.97 L1006.49,319.99 L1007.40,320.01 L1008.32,320.03 L1009.24,320.05 L1010.16,320.07 L1011.07,320.08 L1011.99,320.10 L1012.91,320.12 L1013.83,320.14 L1014.74,320.15 L1015.66,320.17 L1016.58,320.19 L1017.50,320.20 L1018.41,320.22 L1019.33,320.23 L1020.25,320.25 L1021.17,320.26 L1022.08,320.28 L1023.00,320.29 L1023.92,320.31 L1024.84,320.32" fill="none" stroke="#bb7dff" stroke-width="1.80" stroke-dasharray="18.00 7.20" stroke-dashoffset="24.93"/>
<path d="M658.73,188.39 L659.65,188.65 L660.56,188.92 L661.48,189.19 L662.40,189.47 L663.32,189.76 L664.23,190.05 L665.15,190.34 L666.07,190.64 L666.99,190.95 L667.90,191.26 L668.82,191.58 L669.74,191.91 L670.66,192.24 L671.58,192.58 L672.49,192.92 L673.41,193.27 L674.33,193.63 L675.25,193.99 L676.16,194.36 L677.08,194.73 L678.00,195.12 L678.92,195.51 L679.83,195.90 L680.75,196.30 L681.67,196.71 L682.59,197.12 L683.50,197.55 L684.42,197.97 L685.34,198.41 L686.26,198.85 L687.17,199.30 L688.09,199.75 L689.01,200.22 L689.93,200.68 L690.84,201.16 L691.76,201.64 L692.68,202.13 L693.60,202.63 L694.51,203.13 L695.43,203.64 L696.35,204.15 L697.27,204.67 L698.18,205.20 L699.10,205.74 L700.02,206.28 L700.94,206.82 L701.85,207.38 L702.77,207.94 L703.69,208.50 L704.61,209.08 L705.52,209.65 L706.44,210.24 L707.36,210.83 L708.28,211.42 L709.20,212.03 L710.11,212.63 L711.03,213.24 L711.95,213.86 L712.87,214.48 L713.78,215.11 L714.70,215.75 L715.62,216.38 L716.54,217.03 L717.45,217.67 L718.37,218.32 L719.29,218.98 L720.21,219.64 L721.12,220.30 L722.04,220.97 L722.96,221.64 L723.88,222.32 L724.79,223.00 L725.71,223.68 L726.63,224.37 L727.55,225.05 L728.46,225.74 L729.38,226.44 L730.30,227.13 L731.22,227.83 L732.13,228.53 L733.05,229.24 L733.97,229.94 L734.89,230.65 L735.80,231.36 L736.72,232.06 L737.64,232.77 L738.56,233.49 L739.47,234.20 L740.39,234.91 L741.31,235.62 L742.23,236.34 L743.15,237.05 L744.06,237.77 L744.98,238.48 L745.90,239.19 L746.82,239.91 L747.73,240.62 L748.65,241.33 L749.57,242.04 L750.49,242.75 L751.40,243.46 L752.32,244.17 L753.24,244.88 L754.16,245.58 L755.07,246.28 L755.99,246.98 L756.91,247.68 L757.83,248.38 L758.74,249.08 L759.66,249.77 L760.58,250.46 L761.50,251.15 L762.41,251.83 L763.33,252.51 L764.25,253.19 L765.17,253.87 L766.08,254.54 L767.00,255.22 L767.92,255.88 L768.84,256.55 L769.75,257.21 L770.67,257.86 L771.59,258.52 L772.51,259.17 L773.42,259.81 L774.34,260.46 L775.26,261.10 L776.18,261.73 L777.09,262.36 L778.01,262.99 L778.93,263.61 L779.85,264.23 L780.77,264.85 L781.68,265.46 L782.60,266.06 L783.52,266.66 L784.44,267.26 L785.35,267.86 L786.27,268.44 L787.19,269.03 L788.11,269.61 L789.02,270.19 L789.94,270.76 L790.86,271.32 L791.78,271.89 L792.69,272.44 L793.61,273.00 L794.53,273.55 L795.45,274.09 L796.36,274.63 L797.28,275.17 L798.20,275.70 L799.12,276.22 L800.03,276.74 L800.95,277.26 L801.87,277.77 L802.79,278.28 L803.70,278.79 L804.62,279.28 L805.54,279.78 L806.46,280.27 L807.37,280.75 L808.29,281.23 L809.21,281.71 L810.13,282.18 L811.04,282.65 L811.96,283.11 L812.88,283.57 L813.80,284.03 L814.72,284.48 L815.63,284.92 L816.55,285.36 L817.47,285.80 L818.39,286.23 L819.30,286.66 L820.22,287.08 L821.14,287.50 L822.06,287.92 L822.97,288.33 L823.89,288.74 L824.81,289.14 L825.73,289.54 L826.64,289.93 L827.56,290.32 L828.48,290.71 L829.40,291.09 L830.31,291.47 L831.23,291.85 L832.15,292.22 L833.07,292.59 L833.98,292.95 L834.90,293.31 L835.82,293.67 L836.74,294.02 L837.65,294.37 L838.57,294.71 L839.49,295.05 L840.41,295.39 L841.32,295.72 L842.24,296.05 L843.16,296.38 L844.08,296.70 L844.99,297.02 L845.91,297.34 L846.83,297.65 L847.75,297.96 L848.66,298.27 L849.58,298.57 L850.50,298.87 L851.42,299.16 L852.34,299.46 L853.25,299.75 L854.17,300.03 L855.09,300.32 L856.01,300.60 L856.92,300.87 L857.84,301.15 L858.76,301.42 L859.68,301.69 L860.59,301.95 L861.51,302.21 L862.43,302.47 L863.35,302.73 L864.26,302.98 L865.18,303.23 L866.10,303.48 L867.02,303.73 L867.93,303.97 L868.85,304.21 L869.77,304.45 L870.69,304.68 L871.60,304.91 L872.52,305.14 L873.44,305.37 L874.36,305.59 L875.27,305.81 L876.19,306.03 L877.11,306.25 L878.03,306.46 L878.94,306.67 L879.86,306.88 L880.78,307.09 L881.70,307.29 L882.61,307.49 L883.53,307.69 L884.45,307.89 L885.37,308.08 L886.29,308.28 L887.20,308.47 L888.12,308.65 L889.04,308.84 L889.96,309.02 L890.87,309.21 L891.79,309.39 L892.71,309.56 L893.63,309.74 L894.54,309.91 L895.46,310.08 L896.38,310.25 L897.30,310.42 L898.21,310.58 L899.13,310.75 L900.05,310.91 L900.97,311.07 L901.88,311.22 L902.80,311.38 L903.72,311.53 L904.64,311.68 L905.55,311.83 L906.47,311.98 L907.39,312.13 L908.31,312.27 L909.22,312.41 L910.14,312.55 L911.06,312.69 L911.98,312.83 L912.89,312.96 L913.81,313.10 L914.73,313.23 L915.65,313.36 L916.56,313.49 L917.48,313.61 L918.40,313.74 L919.32,313.86 L920.23,313.99 L921.15,314.11 L922.07,314.22 L922.99,314.34 L923.91,314.46 L924.82,314.57 L925.74,314.68 L926.66,314.80 L927.58,314.91 L928.49,315.01 L929.41,315.12 L930.33,315.23 L931.25,315.33 L932.16,315.43 L933.08,315.53 L934.00,315.63 L934.92,315.73 L935.83,315.83 L936.75,315.92 L937.67,316.02 L938.59,316.11 L939.50,316.20 L940.42,316.29 L941.34,316.38 L942.26,316.47 L943.17,316.55 L944.09,316.64 L945.01,316.72 L945.93,316.80 L946.84,316.89 L947.76,316.97 L948.68,317.04 L949.60,317.12 L950.51,317.20 L951.43,317.27 L952.35,317.35 L953.27,317.42 L954.18,317.49 L955.10,317.56 L956.02,317.63 L956.94,317.70 L957.86,317.77 L958.77,317.83 L959.69,317.90 L960.61,317.96 L961.53,318.02 L962.44,318.09 L963.36,318.15 L964.28,318.21 L965.20,318.27 L966.11,318.32 L967.03,318.38 L967.95,318.44 L968.87,318.49 L969.78,318.54 L970.70,318.60 L971.62,318.65 L972.54,318.70 L973.45,318.75 L974.37,318.80 L975.29,318.85 L976.21,318.90 L977.12,318.94 L978.04,318.99 L978.96,319.03 L979.88,319.08 L980.79,319.12 L981.71,319.16 L982.63,319.21 L983.55,319.25 L984.46,319.29 L985.38,319.33 L986.30,319.36 L987.22,319.40 L988.13,319.44 L989.05,319.48 L989.97,319.51 L990.89,319.55 L991.80,319.58 L992.72,319.61 L993.64,319.65 L994.56,319.68 L995.48,319.71 L996.39,319.74 L997.31,319.77 L998.23,319.80 L999.15,319.83 L1000.06,319.86 L1000.98,319.89 L1001.90,319.91 L1002.82,319.94 L1003.73,319.97 L1004.65,319.99 L1005.57,320.02 L1006.49,320.04 L1007.40,320.06 L1008.32,320.09 L1009.24,320.11 L1010.16,320.13 L1011.07,320.15 L1011.99,320.18 L1012.91,320.20 L1013.83,320.22 L1014.74,320.24 L1015.66,320.26 L1016.58,320.28 L1017.50,320.29 L1018.41,320.31 L1019.33,320.33 L1020.25,320.35 L1021.17,320.36 L1022.08,320.38 L1023.00,320.40 L1023.92,320.41 L1024.84,320.43" fill="none" stroke="#ffa500" stroke-width="1.80" stroke-dasharray="12.60 3.60 3.60 3.60" stroke-dashoffset="15.26"/>
<path d="M658.73,75.55 L659.65,75.87 L660.56,76.21 L661.48,76.55 L662.40,76.90 L663.32,77.27 L664.23,77.64 L665.15,78.02 L666.07,78.41 L666.99,78.81 L667.90,79.22 L668.82,79.64 L669.74,80.07 L670.66,80.51 L671.58,80.96 L672.49,81.43 L673.41,81.90 L674.33,82.39 L675.25,82.89 L676.16,83.40 L677.08,83.92 L678.00,84.45 L678.92,85.00 L679.83,85.56 L680.75,86.13 L681.67,86.71 L682.59,87.31 L683.50,87.92 L684.42,88.55 L685.34,89.18 L686.26,89.84 L687.17,90.50 L688.09,91.18 L689.01,91.87 L689.93,92.58 L690.84,93.30 L691.76,94.04 L692.68,94.79 L693.60,95.55 L694.51,96.33 L695.43,97.12 L696.35,97.93 L697.27,98.75 L698.18,99.59 L699.10,100.44 L700.02,101.30 L700.94,102.18 L701.85,103.08 L702.77,103.98 L703.69,104.90 L704.61,105.84 L705.52,106.79 L706.44,107.75 L707.36,108.73 L708.28,109.72 L709.20,110.72 L710.11,111.73 L711.03,112.76 L711.95,113.80 L712.87,114.85 L713.78,115.92 L714.70,116.99 L715.62,118.08 L716.54,119.18 L717.45,120.29 L718.37,121.41 L719.29,122.54 L720.21,123.68 L721.12,124.83 L722.04,125.99 L722.96,127.16 L723.88,128.33 L724.79,129.52 L725.71,130.71 L726.63,131.91 L727.55,133.12 L728.46,134.33 L729.38,135.55 L730.30,136.78 L731.22,138.01 L732.13,139.25 L733.05,140.49 L733.97,141.74 L734.89,142.99 L735.80,144.24 L736.72,145.50 L737.64,146.77 L738.56,148.03 L739.47,149.30 L740.39,150.57 L741.31,151.84 L742.23,153.11 L743.15,154.39 L744.06,155.66 L744.98,156.94 L745.90,158.21 L746.82,159.49 L747.73,160.77 L748.65,162.04 L749.57,163.31 L750.49,164.59 L751.40,165.86 L752.32,167.13 L753.24,168.40 L754.16,169.66 L755.07,170.93 L755.99,172.19 L756.91,173.44 L757.83,174.70 L758.74,175.95 L759.66,177.20 L760.58,178.44 L761.50,179.68 L762.41,180.92 L763.33,182.15 L764.25,183.38 L765.17,184.61 L766.08,185.83 L767.00,187.04 L767.92,188.25 L768.84,189.45 L769.75,190.65 L770.67,191.85 L771.59,193.04 L772.51,194.22 L773.42,195.40 L774.34,196.57 L775.26,197.74 L776.18,198.90 L777.09,200.05 L778.01,201.20 L778.93,202.34 L779.85,203.48 L780.77,204.61 L781.68,205.73 L782.60,206.85 L783.52,207.96 L784.44,209.07 L785.35,210.17 L786.27,211.26 L787.19,212.34 L788.11,213.42 L789.02,214.49 L789.94,215.56 L790.86,216.62 L791.78,217.67 L792.69,218.72 L793.61,219.75 L794.53,220.79 L795.45,221.81 L796.36,222.83 L797.28,223.84 L798.20,224.85 L799.12,225.84 L800.03,226.83 L800.95,227.82 L801.87,228.80 L802.79,229.77 L803.70,230.73 L804.62,231.69 L805.54,232.64 L806.46,233.58 L807.37,234.52 L808.29,235.45 L809.21,236.37 L810.13,237.29 L811.04,238.20 L811.96,239.10 L812.88,240.00 L813.80,240.89 L814.72,241.77 L815.63,242.64 L816.55,243.51 L817.47,244.38 L818.39,245.23 L819.30,246.08 L820.22,246.92 L821.14,247.76 L822.06,248.59 L822.97,249.41 L823.89,250.23 L824.81,251.04 L825.73,251.84 L826.64,252.64 L827.56,253.43 L828.48,254.21 L829.40,254.99 L830.31,255.76 L831.23,256.53 L832.15,257.29 L833.07,258.04 L833.98,258.78 L834.90,259.52 L835.82,260.26 L836.74,260.98 L837.65,261.71 L838.57,262.42 L839.49,263.13 L840.41,263.83 L841.32,264.53 L842.24,265.22 L843.16,265.90 L844.08,266.58 L844.99,267.25 L845.91,267.92 L846.83,268.58 L847.75,269.23 L848.66,269.88 L849.58,270.52 L850.50,271.16 L851.42,271.79 L852.34,272.41 L853.25,273.03 L854.17,273.65 L855.09,274.25 L856.01,274.85 L856.92,275.45 L857.84,276.04 L858.76,276.63 L859.68,277.20 L860.59,277.78 L861.51,278.35 L862.43,278.91 L863.35,279.47 L864.26,280.02 L865.18,280.56 L866.10,281.10 L867.02,281.64 L867.93,282.17 L868.85,282.69 L869.77,283.21 L870.69,283.73 L871.60,284.23 L872.52,284.74 L873.44,285.24 L874.36,285.73 L875.27,286.22 L876.19,286.70 L877.11,287.18 L878.03,287.65 L878.94,288.12 L879.86,288.58 L880.78,289.04 L881.70,289.49 L882.61,289.94 L883.53,290.38 L884.45,290.82 L885.37,291.25 L886.29,291.68 L887.20,292.10 L888.12,292.52 L889.04,292.93 L889.96,293.34 L890.87,293.75 L891.79,294.15 L892.71,294.54 L893.63,294.93 L894.54,295.32 L895.46,295.70 L896.38,296.08 L897.30,296.45 L898.21,296.82 L899.13,297.18 L900.05,297.54 L900.97,297.90 L901.88,298.25 L902.80,298.59 L903.72,298.94 L904.64,299.27 L905.55,299.61 L906.47,299.94 L907.39,300.26 L908.31,300.58 L909.22,300.90 L910.14,301.22 L911.06,301.52 L911.98,301.83 L912.89,302.13 L913.81,302.43 L914.73,302.72 L915.65,303.01 L916.56,303.30 L917.48,303.58 L918.40,303.86 L919.32,304.14 L920.23,304.41 L921.15,304.68 L922.07,304.94 L922.99,305.20 L923.91,305.46 L924.82,305.71 L925.74,305.96 L926.66,306.21 L927.58,306.45 L928.49,306.69 L929.41,306.93 L930.33,307.16 L931.25,307.39 L932.16,307.62 L933.08,307.84 L934.00,308.06 L934.92,308.28 L935.83,308.49 L936.75,308.70 L937.67,308.91 L938.59,309.12 L939.50,309.32 L940.42,309.52 L941.34,309.72 L942.26,309.91 L943.17,310.10 L944.09,310.29 L945.01,310.47 L945.93,310.65 L946.84,310.83 L947.76,311.01 L948.68,311.18 L949.60,311.35 L950.51,311.52 L951.43,311.69 L952.35,311.85 L953.27,312.01 L954.18,312.17 L955.10,312.33 L956.02,312.48 L956.94,312.63 L957.86,312.78 L958.77,312.93 L959.69,313.07 L960.61,313.21 L961.53,313.35 L962.44,313.49 L963.36,313.63 L964.28,313.76 L965.20,313.89 L966.11,314.02 L967.03,314.14 L967.95,314.27 L968.87,314.39 L969.78,314.51 L970.70,314.63 L971.62,314.75 L972.54,314.86 L973.45,314.97 L974.37,315.09 L975.29,315.19 L976.21,315.30 L977.12,315.41 L978.04,315.51 L978.96,315.61 L979.88,315.71 L980.79,315.81 L981.71,315.91 L982.63,316.00 L983.55,316.10 L984.46,316.19 L985.38,316.28 L986.30,316.37 L987.22,316.45 L988.13,316.54 L989.05,316.62 L989.97,316.71 L990.89,316.79 L991.80,316.87 L992.72,316.95 L993.64,317.02 L994.56,317.10 L995.48,317.17 L996.39,317.25 L997.31,317.32 L998.23,317.39 L999.15,317.46 L1000.06,317.53 L1000.98,317.59 L1001.90,317.66 L1002.82,317.72 L1003.73,317.79 L1004.65,317.85 L1005.57,317.91 L1006.49,317.97 L1007.40,318.03 L1008.32,318.09 L1009.24,318.14 L1010.16,318.20 L1011.07,318.25 L1011.99,318.31 L1012.91,318.36 L1013.83,318.41 L1014.74,318.46 L1015.66,318.51 L1016.58,318.56 L1017.50,318.61 L1018.41,318.66 L1019.33,318.70 L1020.25,318.75 L1021.17,318.79 L1022.08,318.84 L1023.00,318.88 L1023.92,318.92 L1024.84,318.96" fill="none" stroke="#bb7dff" stroke-width="3.05" stroke-dasharray="30.00 12.40" stroke-dashoffset="42.11"/>
<path d="M658.73,-76.83 L659.65,-76.04 L660.56,-75.24 L661.48,-74.42 L662.40,-73.58 L663.32,-72.73 L664.23,-71.86 L665.15,-70.97 L666.07,-70.07 L666.99,-69.15 L667.90,-68.21 L668.82,-67.25 L669.74,-66.27 L670.66,-65.28 L671.58,-64.27 L672.49,-63.24 L673.41,-62.19 L674.33,-61.12 L675.25,-60.03 L676.16,-58.92 L677.08,-57.80 L678.00,-56.65 L678.92,-55.48 L679.83,-54.30 L680.75,-53.09 L681.67,-51.87 L682.59,-50.63 L683.50,-49.36 L684.42,-48.08 L685.34,-46.77 L686.26,-45.45 L687.17,-44.10 L688.09,-42.74 L689.01,-41.35 L689.93,-39.95 L690.84,-38.52 L691.76,-37.07 L692.68,-35.61 L693.60,-34.12 L694.51,-32.62 L695.43,-31.09 L696.35,-29.55 L697.27,-27.98 L698.18,-26.40 L699.10,-24.79 L700.02,-23.17 L700.94,-21.53 L701.85,-19.87 L702.77,-18.19 L703.69,-16.49 L704.61,-14.77 L705.52,-13.04 L706.44,-11.28 L707.36,-9.51 L708.28,-7.73 L709.20,-5.92 L710.11,-4.10 L711.03,-2.27 L711.95,-0.41 L712.87,1.45 L713.78,3.34 L714.70,5.24 L715.62,7.15 L716.54,9.08 L717.45,11.02 L718.37,12.97 L719.29,14.94 L720.21,16.92 L721.12,18.91 L722.04,20.92 L722.96,22.93 L723.88,24.96 L724.79,27.00 L725.71,29.04 L726.63,31.10 L727.55,33.16 L728.46,35.23 L729.38,37.32 L730.30,39.40 L731.22,41.50 L732.13,43.60 L733.05,45.71 L733.97,47.82 L734.89,49.94 L735.80,52.07 L736.72,54.19 L737.64,56.32 L738.56,58.46 L739.47,60.59 L740.39,62.73 L741.31,64.87 L742.23,67.01 L743.15,69.16 L744.06,71.30 L744.98,73.44 L745.90,75.58 L746.82,77.72 L747.73,79.86 L748.65,81.99 L749.57,84.13 L750.49,86.26 L751.40,88.39 L752.32,90.51 L753.24,92.63 L754.16,94.74 L755.07,96.85 L755.99,98.95 L756.91,101.05 L757.83,103.14 L758.74,105.23 L759.66,107.31 L760.58,109.38 L761.50,111.44 L762.41,113.50 L763.33,115.54 L764.25,117.58 L765.17,119.61 L766.08,121.63 L767.00,123.65 L767.92,125.65 L768.84,127.64 L769.75,129.62 L770.67,131.59 L771.59,133.55 L772.51,135.50 L773.42,137.44 L774.34,139.37 L775.26,141.29 L776.18,143.19 L777.09,145.08 L778.01,146.97 L778.93,148.83 L779.85,150.69 L780.77,152.54 L781.68,154.37 L782.60,156.19 L783.52,157.99 L784.44,159.79 L785.35,161.57 L786.27,163.33 L787.19,165.09 L788.11,166.83 L789.02,168.56 L789.94,170.27 L790.86,171.97 L791.78,173.66 L792.69,175.33 L793.61,176.99 L794.53,178.64 L795.45,180.27 L796.36,181.89 L797.28,183.50 L798.20,185.09 L799.12,186.67 L800.03,188.23 L800.95,189.78 L801.87,191.32 L802.79,192.85 L803.70,194.36 L804.62,195.85 L805.54,197.34 L806.46,198.80 L807.37,200.26 L808.29,201.70 L809.21,203.13 L810.13,204.55 L811.04,205.95 L811.96,207.34 L812.88,208.71 L813.80,210.08 L814.72,211.43 L815.63,212.76 L816.55,214.09 L817.47,215.40 L818.39,216.69 L819.30,217.98 L820.22,219.25 L821.14,220.51 L822.06,221.75 L822.97,222.99 L823.89,224.21 L824.81,225.42 L825.73,226.62 L826.64,227.80 L827.56,228.97 L828.48,230.13 L829.40,231.28 L830.31,232.42 L831.23,233.54 L832.15,234.66 L833.07,235.76 L833.98,236.85 L834.90,237.93 L835.82,239.00 L836.74,240.05 L837.65,241.10 L838.57,242.13 L839.49,243.15 L840.41,244.17 L841.32,245.17 L842.24,246.16 L843.16,247.14 L844.08,248.11 L844.99,249.07 L845.91,250.01 L846.83,250.95 L847.75,251.88 L848.66,252.80 L849.58,253.71 L850.50,254.60 L851.42,255.49 L852.34,256.37 L853.25,257.24 L854.17,258.10 L855.09,258.95 L856.01,259.79 L856.92,260.62 L857.84,261.45 L858.76,262.26 L859.68,263.06 L860.59,263.86 L861.51,264.64 L862.43,265.42 L863.35,266.19 L864.26,266.95 L865.18,267.70 L866.10,268.45 L867.02,269.18 L867.93,269.91 L868.85,270.63 L869.77,271.34 L870.69,272.04 L871.60,272.74 L872.52,273.42 L873.44,274.10 L874.36,274.77 L875.27,275.44 L876.19,276.09 L877.11,276.74 L878.03,277.38 L878.94,278.02 L879.86,278.64 L880.78,279.26 L881.70,279.87 L882.61,280.48 L883.53,281.08 L884.45,281.67 L885.37,282.25 L886.29,282.83 L887.20,283.40 L888.12,283.96 L889.04,284.52 L889.96,285.07 L890.87,285.62 L891.79,286.16 L892.71,286.69 L893.63,287.21 L894.54,287.73 L895.46,288.24 L896.38,288.75 L897.30,289.25 L898.21,289.75 L899.13,290.24 L900.05,290.72 L900.97,291.20 L901.88,291.67 L902.80,292.13 L903.72,292.59 L904.64,293.05 L905.55,293.50 L906.47,293.94 L907.39,294.38 L908.31,294.81 L909.22,295.24 L910.14,295.66 L911.06,296.07 L911.98,296.48 L912.89,296.89 L913.81,297.29 L914.73,297.69 L915.65,298.08 L916.56,298.46 L917.48,298.84 L918.40,299.22 L919.32,299.59 L920.23,299.96 L921.15,300.32 L922.07,300.67 L922.99,301.03 L923.91,301.37 L924.82,301.72 L925.74,302.05 L926.66,302.39 L927.58,302.72 L928.49,303.04 L929.41,303.36 L930.33,303.68 L931.25,303.99 L932.16,304.30 L933.08,304.60 L934.00,304.90 L934.92,305.19 L935.83,305.48 L936.75,305.77 L937.67,306.05 L938.59,306.33 L939.50,306.60 L940.42,306.87 L941.34,307.14 L942.26,307.40 L943.17,307.66 L944.09,307.91 L945.01,308.17 L945.93,308.41 L946.84,308.66 L947.76,308.90 L948.68,309.13 L949.60,309.36 L950.51,309.59 L951.43,309.82 L952.35,310.04 L953.27,310.26 L954.18,310.47 L955.10,310.69 L956.02,310.89 L956.94,311.10 L957.86,311.30 L958.77,311.50 L959.69,311.69 L960.61,311.89 L961.53,312.07 L962.44,312.26 L963.36,312.44 L964.28,312.62 L965.20,312.80 L966.11,312.97 L967.03,313.14 L967.95,313.31 L968.87,313.47 L969.78,313.63 L970.70,313.79 L971.62,313.95 L972.54,314.10 L973.45,314.25 L974.37,314.40 L975.29,314.55 L976.21,314.69 L977.12,314.83 L978.04,314.97 L978.96,315.10 L979.88,315.23 L980.79,315.36 L981.71,315.49 L982.63,315.62 L983.55,315.74 L984.46,315.86 L985.38,315.98 L986.30,316.09 L987.22,316.21 L988.13,316.32 L989.05,316.43 L989.97,316.53 L990.89,316.64 L991.80,316.74 L992.72,316.84 L993.64,316.94 L994.56,317.04 L995.48,317.13 L996.39,317.22 L997.31,317.31 L998.23,317.40 L999.15,317.49 L1000.06,317.57 L1000.98,317.66 L1001.90,317.74 L1002.82,317.82 L1003.73,317.90 L1004.65,317.97 L1005.57,318.05 L1006.49,318.12 L1007.40,318.19 L1008.32,318.26 L1009.24,318.33 L1010.16,318.40 L1011.07,318.46 L1011.99,318.53 L1012.91,318.59 L1013.83,318.65 L1014.74,318.71 L1015.66,318.77 L1016.58,318.83 L1017.50,318.88 L1018.41,318.94 L1019.33,318.99 L1020.25,319.04 L1021.17,319.09 L1022.08,319.14 L1023.00,319.19 L1023.92,319.24 L1024.84,319.28" fill="none" stroke="#ffa500" stroke-width="3.05" stroke-dasharray="21.60 5.70 6.40 5.70" stroke-dashoffset="11.88"/>
<line x1="659.00" y1="321.00" x2="1025.00" y2="321.00" stroke="#000" stroke-width="1.9" stroke-dasharray="8.7 5.8"/>
<line x1="686.40" y1="77.50" x2="686.40" y2="297.70" stroke="#add8e6" stroke-width="3"/>
<line x1="715.22" y1="139.50" x2="715.22" y2="340.60" stroke="#add8e6" stroke-width="3"/>
<line x1="744.04" y1="229.90" x2="744.04" y2="316.30" stroke="#add8e6" stroke-width="3"/>
<line x1="772.86" y1="197.30" x2="772.86" y2="326.00" stroke="#add8e6" stroke-width="3"/>
<line x1="801.68" y1="136.20" x2="801.68" y2="271.20" stroke="#add8e6" stroke-width="3"/>
<line x1="830.50" y1="217.20" x2="830.50" y2="310.40" stroke="#add8e6" stroke-width="3"/>
<line x1="859.32" y1="272.30" x2="859.32" y2="331.60" stroke="#add8e6" stroke-width="3"/>
<line x1="888.14" y1="231.70" x2="888.14" y2="296.80" stroke="#add8e6" stroke-width="3"/>
<line x1="916.96" y1="263.70" x2="916.96" y2="315.40" stroke="#add8e6" stroke-width="3"/>
<line x1="945.78" y1="279.60" x2="945.78" y2="323.80" stroke="#add8e6" stroke-width="3"/>
<line x1="974.60" y1="302.20" x2="974.60" y2="332.10" stroke="#add8e6" stroke-width="3"/>
<line x1="1003.42" y1="309.20" x2="1003.42" y2="336.60" stroke="#add8e6" stroke-width="3"/>
<circle cx="686.40" cy="187.70" r="6.2" fill="#0000ff"/>
<circle cx="715.22" cy="240.30" r="6.2" fill="#0000ff"/>
<circle cx="744.04" cy="273.30" r="6.2" fill="#0000ff"/>
<circle cx="772.86" cy="261.90" r="6.2" fill="#0000ff"/>
<circle cx="801.68" cy="203.60" r="6.2" fill="#0000ff"/>
<circle cx="830.50" cy="264.00" r="6.2" fill="#0000ff"/>
<circle cx="859.32" cy="302.10" r="6.2" fill="#0000ff"/>
<circle cx="888.14" cy="264.40" r="6.2" fill="#0000ff"/>
<circle cx="916.96" cy="289.60" r="6.2" fill="#0000ff"/>
<circle cx="945.78" cy="301.70" r="6.2" fill="#0000ff"/>
<circle cx="974.60" cy="317.20" r="6.2" fill="#0000ff"/>
<circle cx="1003.42" cy="322.80" r="6.2" fill="#0000ff"/>
</g>
<path d="M658.73,36.00 v7.50 M658.73,375.80 v-7.50 M664.63,36.00 v7.50 M664.63,375.80 v-7.50 M669.90,36.00 v15.00 M669.90,375.80 v-15.00 M704.60,36.00 v7.50 M704.60,375.80 v-7.50 M724.90,36.00 v7.50 M724.90,375.80 v-7.50 M739.30,36.00 v7.50 M739.30,375.80 v-7.50 M750.47,36.00 v7.50 M750.47,375.80 v-7.50 M759.60,36.00 v7.50 M759.60,375.80 v-7.50 M767.31,36.00 v7.50 M767.31,375.80 v-7.50 M774.00,36.00 v7.50 M774.00,375.80 v-7.50 M779.90,36.00 v7.50 M779.90,375.80 v-7.50 M785.17,36.00 v15.00 M785.17,375.80 v-15.00 M819.87,36.00 v7.50 M819.87,375.80 v-7.50 M840.17,36.00 v7.50 M840.17,375.80 v-7.50 M854.57,36.00 v7.50 M854.57,375.80 v-7.50 M865.74,36.00 v7.50 M865.74,375.80 v-7.50 M874.87,36.00 v7.50 M874.87,375.80 v-7.50 M882.58,36.00 v7.50 M882.58,375.80 v-7.50 M889.27,36.00 v7.50 M889.27,375.80 v-7.50 M895.17,36.00 v7.50 M895.17,375.80 v-7.50 M900.44,36.00 v15.00 M900.44,375.80 v-15.00 M935.14,36.00 v7.50 M935.14,375.80 v-7.50 M955.44,36.00 v7.50 M955.44,375.80 v-7.50 M969.84,36.00 v7.50 M969.84,375.80 v-7.50 M981.01,36.00 v7.50 M981.01,375.80 v-7.50 M990.14,36.00 v7.50 M990.14,375.80 v-7.50 M997.85,36.00 v7.50 M997.85,375.80 v-7.50 M1004.54,36.00 v7.50 M1004.54,375.80 v-7.50 M1010.44,36.00 v7.50 M1010.44,375.80 v-7.50 M1015.71,36.00 v15.00 M1015.71,375.80 v-15.00 M659.00,364.82 h7.50 M1025.00,364.82 h-7.50 M659.00,321.00 h15.00 M1025.00,321.00 h-15.00 M659.00,277.18 h7.50 M1025.00,277.18 h-7.50 M659.00,233.36 h15.00 M1025.00,233.36 h-15.00 M659.00,189.54 h7.50 M1025.00,189.54 h-7.50 M659.00,145.72 h15.00 M1025.00,145.72 h-15.00 M659.00,101.90 h7.50 M1025.00,101.90 h-7.50 M659.00,58.08 h15.00 M1025.00,58.08 h-15.00" stroke="#000" stroke-width="1.30" fill="none"/>
<rect x="659.00" y="36.00" width="366.00" height="339.80" fill="none" stroke="#000" stroke-width="2.2"/>
<text x="635.61" y="329.25" font-family="Liberation Sans, sans-serif" font-size="23.00" stroke="#000" stroke-width="0.23">0</text>
<text x="635.61" y="241.61" font-family="Liberation Sans, sans-serif" font-size="23.00" stroke="#000" stroke-width="0.23">4</text>
<text x="635.61" y="153.97" font-family="Liberation Sans, sans-serif" font-size="23.00" stroke="#000" stroke-width="0.23">8</text>
<path transform="translate(622.82,66.33) scale(0.02300,-0.02300)" d="M359 0L271 0L271 505L101 505L101 568Q190 571 237 608Q281 645 296 714L359 714Z" fill="#000" stroke="#000" stroke-width="10"/>
<text x="635.61" y="66.33" font-family="Liberation Sans, sans-serif" font-size="23.00" stroke="#000" stroke-width="0.23">2</text>
<path transform="translate(666.30,407.60) scale(0.02300,-0.02300)" d="M359 0L271 0L271 505L101 505L101 568Q190 571 237 608Q281 645 296 714L359 714Z" fill="#000" stroke="#000" stroke-width="10"/>
<path transform="translate(775.18,407.60) scale(0.02300,-0.02300)" d="M359 0L271 0L271 505L101 505L101 568Q190 571 237 608Q281 645 296 714L359 714Z" fill="#000" stroke="#000" stroke-width="10"/>
<text x="787.97" y="407.60" font-family="Liberation Sans, sans-serif" font-size="23.00" stroke="#000" stroke-width="0.23">0</text>
<path transform="translate(884.05,407.60) scale(0.02300,-0.02300)" d="M359 0L271 0L271 505L101 505L101 568Q190 571 237 608Q281 645 296 714L359 714Z" fill="#000" stroke="#000" stroke-width="10"/>
<text x="896.84" y="407.60" font-family="Liberation Sans, sans-serif" font-size="23.00" stroke="#000" stroke-width="0.23">00</text>
<path transform="translate(992.93,407.60) scale(0.02300,-0.02300)" d="M359 0L271 0L271 505L101 505L101 568Q190 571 237 608Q281 645 296 714L359 714Z" fill="#000" stroke="#000" stroke-width="10"/>
<text x="1005.72" y="407.60" font-family="Liberation Sans, sans-serif" font-size="23.00" stroke="#000" stroke-width="0.23">000</text>
<text x="835.70" y="28.2" font-family="Liberation Sans, sans-serif" font-size="30.1" text-anchor="middle" stroke="#000" stroke-width="0.30">ACT</text>
<text transform="translate(794.30,446.3) scale(1.18,0.96)" font-family="Liberation Serif, serif" font-size="35" stroke="#000" stroke-width="0.35">θ</text>
<text x="825.40" y="442.9" font-family="Liberation Sans, sans-serif" font-size="24.45" stroke="#000" stroke-width="0.24">(arcmin)</text>
<g transform="translate(575.30,0)">
<text transform="translate(36.2,251.8) rotate(-90)" font-family="Liberation Sans, sans-serif" font-size="35.6" stroke="#000" stroke-width="1.1">w</text>
<text transform="translate(38.3,226.6) rotate(-90)" font-family="Liberation Sans, sans-serif" font-size="22" stroke="#000" stroke-width="0.22">yDM</text>
<text transform="translate(30.8,183.2) rotate(-90)" font-family="Liberation Sans, sans-serif" font-size="29.5" stroke="#000" stroke-width="0.29">(</text>
<text transform="translate(31.4,172.9) rotate(-90)" font-family="Liberation Sans, sans-serif" font-size="27.5" stroke="#000" stroke-width="0.28">θ</text>
<text transform="translate(30.8,159.2) rotate(-90)" font-family="Liberation Sans, sans-serif" font-size="29.5" stroke="#000" stroke-width="0.29">)</text>
<g transform="translate(31.8,145.2) rotate(-90)">
<text x="0.00" y="0.00" font-family="Liberation Sans, sans-serif" font-size="25.00" stroke="#000" stroke-width="0.25">(</text>
<path transform="translate(8.33,0.00) scale(0.02500,-0.02500)" d="M359 0L271 0L271 505L101 505L101 568Q190 571 237 608Q281 645 296 714L359 714Z" fill="#000" stroke="#000" stroke-width="10"/>
<text x="22.23" y="0.00" font-family="Liberation Sans, sans-serif" font-size="25.00" stroke="#000" stroke-width="0.25">0</text>
</g>
<text transform="translate(20.3,109.8) rotate(-90)" font-family="Liberation Sans, sans-serif" font-size="19.5" stroke="#000" stroke-width="0.20">−5</text>
<text transform="translate(31.8,87.9) rotate(-90)" font-family="Liberation Sans, sans-serif" font-size="24.2" stroke="#000" stroke-width="0.24">pc/cm</text>
<text transform="translate(20.4,23.4) rotate(-90)" font-family="Liberation Sans, sans-serif" font-size="20" stroke="#000" stroke-width="0.20">3</text>
<text transform="translate(31.8,13.6) rotate(-90)" font-family="Liberation Sans, sans-serif" font-size="25" stroke="#000" stroke-width="0.25">)</text>
</g>
<text x="878.00" y="76.80" font-family="Liberation Sans, sans-serif" font-size="27.90" stroke="#000" stroke-width="0.28">3</text>
<path transform="translate(893.52,76.80) scale(0.02790,-0.02790)" d="M359 0L271 0L271 505L101 505L101 568Q190 571 237 608Q281 645 296 714L359 714Z" fill="#000" stroke="#000" stroke-width="10"/>
<text x="916.78" y="76.80" font-family="Liberation Sans, sans-serif" font-size="27.90" stroke="#000" stroke-width="0.28">FRBs</text>
<text x="878.3" y="117.3" font-family="Liberation Sans, sans-serif" font-size="26.8" stroke="#000" stroke-width="0.27">Model Nβ</text>
</svg>
</body></html>
